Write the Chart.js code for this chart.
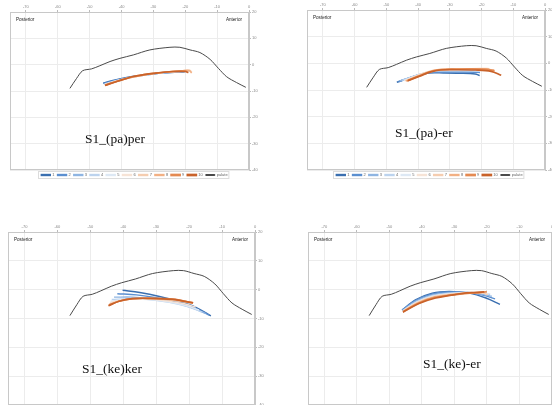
<!DOCTYPE html>
<html>
<head>
<meta charset="utf-8">
<script src="https://cdn.jsdelivr.net/npm/chart.js@4"></script>
<style>
  html, body { margin: 0; padding: 0; background: #fff; overflow: hidden; width: 552px; height: 405px; }
  canvas { position: absolute; }
</style>
</head>
<body>
<canvas id="c1" width="262" height="187" style="left:0;top:0"></canvas>
<canvas id="c2" width="276" height="187" style="left:276px;top:0"></canvas>
<canvas id="c3" width="264" height="222" style="left:0;top:200px"></canvas>
<canvas id="c4" width="286" height="222" style="left:276px;top:200px"></canvas>
<script>
/* ===== dados ===== */
const seriesNames = ['1', '2', '3', '4', '5', '6', '7', '8', '9', '10'];
const xTicks = [-70, -60, -50, -40, -30, -20, -10, 0];
const yTicks = [20, 10, 0, -10, -20, -30, -40];

const palateX = [-56.2, -54.1, -52.2, -49.4, -46.8, -43.6, -40.5, -36.3, -31.1, -24.8, -21.7, -18.5, -15.4, -12.2, -9.6, -7.0, -3.9, -1.0];
const palateY = [-9.0, -5.2, -2.3, -1.6, -0.4, 1.2, 2.4, 3.7, 5.6, 6.6, 6.6, 5.6, 4.6, 2.0, -1.4, -4.6, -6.8, -8.6];

// S1_(pa)per
const paPerX = [
  [-45.8, -42.0, -38.0, -34.0, -30.0, -26.0, -22.0, -20.2],
  [-45.6, -41.8, -37.8, -33.8, -29.8, -25.8, -21.8, -19.9],
  [-45.4, -41.6, -37.6, -33.6, -29.6, -25.6, -21.6, -19.6],
  [-45.3, -41.4, -37.4, -33.4, -29.4, -25.4, -21.4, -19.4],
  [-45.2, -41.3, -37.3, -33.3, -29.3, -25.3, -21.3, -19.0],
  [-45.2, -41.2, -37.2, -33.2, -29.2, -25.2, -21.2, -18.6],
  [-45.1, -41.1, -37.1, -33.1, -29.1, -25.1, -21.1, -18.6, -17.9],
  [-45.1, -41.0, -37.0, -33.0, -29.0, -25.0, -21.0, -18.8, -18.0],
  [-45.2, -41.0, -36.3, -33.0, -30.0, -23.8, -19.6],
  [-45.2, -41.0, -36.3, -33.0, -30.0, -23.8, -20.0, -19.0]
];
const paPerY = [
  [-7.0, -5.8, -4.8, -4.1, -3.5, -3.1, -2.8, -2.7],
  [-7.2, -5.9, -4.9, -4.1, -3.5, -3.0, -2.7, -2.6],
  [-7.3, -6.0, -4.9, -4.1, -3.4, -2.9, -2.6, -2.5],
  [-7.4, -6.0, -4.9, -4.0, -3.4, -2.9, -2.6, -2.4],
  [-7.5, -6.1, -4.9, -4.0, -3.3, -2.8, -2.5, -2.3],
  [-7.5, -6.1, -4.9, -4.0, -3.3, -2.8, -2.4, -2.2],
  [-7.6, -6.2, -4.9, -4.0, -3.3, -2.7, -2.3, -2.1, -3.0],
  [-7.7, -6.2, -4.9, -3.9, -3.2, -2.7, -2.3, -2.2, -3.2],
  [-7.8, -6.1, -4.5, -3.8, -3.3, -2.6, -2.4],
  [-7.9, -6.2, -4.5, -3.8, -3.3, -2.6, -2.6, -3.0]
];

// S1_(pa)-er
const paErX = [
  [-46.7, -43.5, -40.0, -36.5, -32.0, -27.0, -22.0, -20.6],
  [-46.2, -43.0, -39.5, -36.0, -31.0, -26.0, -21.0, -20.5],
  [-45.8, -42.5, -39.0, -35.5, -30.0, -25.0, -21.0, -20.4],
  [-45.0, -42.0, -38.5, -35.0, -30.0, -25.0, -20.5, -19.0],
  [-44.5, -41.5, -38.0, -35.0, -30.0, -25.0, -20.0, -18.0],
  [-44.2, -41.2, -37.8, -34.8, -30.0, -25.0, -20.0, -17.8],
  [-44.0, -41.0, -37.5, -34.5, -30.0, -25.0, -20.0, -17.5],
  [-43.8, -40.5, -37.0, -34.0, -29.0, -24.0, -19.0, -16.0],
  [-43.5, -40.0, -36.5, -33.5, -28.0, -23.0, -18.5, -15.9],
  [-43.2, -39.5, -36.0, -33.0, -28.0, -22.0, -17.0, -13.8]
];
const paErY = [
  [-7.1, -5.8, -4.4, -3.6, -3.6, -3.7, -4.0, -4.6],
  [-6.9, -5.6, -4.3, -3.4, -3.3, -3.3, -3.4, -3.5],
  [-6.6, -5.3, -4.0, -3.1, -2.9, -2.8, -2.7, -2.6],
  [-6.4, -5.1, -3.8, -2.9, -2.7, -2.6, -2.5, -2.4],
  [-6.5, -5.1, -3.6, -2.8, -2.5, -2.4, -2.3, -2.3],
  [-6.5, -5.0, -3.5, -2.7, -2.4, -2.2, -2.1, -2.1],
  [-6.6, -5.0, -3.4, -2.5, -2.2, -2.0, -1.9, -2.0],
  [-6.7, -5.1, -3.4, -2.4, -2.1, -2.0, -2.1, -2.5],
  [-6.6, -4.9, -3.3, -2.4, -2.2, -2.1, -2.3, -2.8],
  [-6.5, -4.8, -3.2, -2.5, -2.4, -2.5, -3.0, -4.5]
];

// S1_(ke)ker
const keKerX = [
  [-40.2, -35.0, -29.0, -22.9, -17.8, -13.4],
  [-41.8, -36.0, -30.0, -24.0, -18.5, -14.0],
  [-42.8, -37.0, -31.0, -25.0, -19.5, -15.0],
  [-43.5, -38.0, -32.0, -26.0, -20.5, -16.0],
  [-43.8, -38.5, -32.5, -26.5, -21.0, -17.0],
  [-44.0, -39.0, -33.0, -27.0, -21.5, -18.0],
  [-44.2, -40.0, -35.0, -29.0, -23.0, -19.0],
  [-44.3, -41.0, -37.0, -32.0, -25.0, -18.8],
  [-44.4, -41.3, -37.2, -32.1, -25.0, -18.8],
  [-44.5, -41.3, -37.2, -32.1, -25.0, -18.8]
];
const keKerY = [
  [-0.2, -1.0, -2.35, -4.1, -6.2, -9.1],
  [-1.4, -1.8, -2.8, -4.3, -6.2, -8.8],
  [-2.6, -2.6, -3.2, -4.4, -6.1, -8.3],
  [-3.4, -3.1, -3.4, -4.4, -5.9, -7.8],
  [-4.0, -3.3, -3.4, -4.2, -5.5, -7.0],
  [-4.4, -3.4, -3.2, -3.9, -4.9, -6.0],
  [-4.9, -3.6, -3.1, -3.3, -4.0, -4.7],
  [-5.2, -3.9, -3.1, -3.0, -3.3, -4.5],
  [-5.4, -4.0, -3.1, -3.0, -3.3, -4.6],
  [-5.6, -4.0, -3.1, -3.0, -3.4, -4.6]
];

// S1_(ke)-er
const keErX = [
  [-46.1, -42.0, -36.8, -31.6, -25.5, -20.3, -16.0],
  [-46.0, -42.0, -37.0, -32.0, -26.0, -21.0, -17.5],
  [-45.9, -41.8, -37.0, -32.0, -26.0, -21.0, -18.5],
  [-45.8, -41.6, -36.8, -31.5, -26.0, -21.0, -19.0],
  [-45.8, -41.5, -36.6, -31.2, -26.0, -21.2, -19.5],
  [-45.8, -41.5, -36.5, -31.0, -26.0, -21.5, -19.8],
  [-45.8, -41.4, -36.5, -31.0, -26.0, -21.5, -19.8],
  [-45.8, -41.2, -36.2, -30.5, -26.0, -21.0, -20.8],
  [-45.8, -41.0, -36.0, -30.0, -26.0, -22.0, -20.0],
  [-45.8, -40.9, -35.8, -31.0, -27.5, -24.0, -20.8]
];
const keErY = [
  [-7.1, -3.5, -1.2, -0.6, -1.2, -2.9, -5.1],
  [-7.0, -3.8, -1.6, -0.8, -1.0, -2.0, -3.2],
  [-7.2, -4.0, -1.9, -1.1, -1.1, -1.7, -2.3],
  [-7.3, -4.2, -2.1, -1.3, -1.0, -1.3, -1.6],
  [-7.4, -4.3, -2.3, -1.4, -1.0, -1.1, -1.5],
  [-7.4, -4.4, -2.4, -1.5, -1.1, -1.0, -1.6],
  [-7.5, -4.5, -2.5, -1.6, -1.1, -1.0, -1.8],
  [-7.6, -4.6, -2.6, -1.7, -1.2, -0.9, -0.8],
  [-7.7, -4.7, -2.7, -1.8, -1.3, -1.0, -0.7],
  [-7.8, -4.8, -2.9, -1.9, -1.3, -1.0, -0.8]
];

/* ===== estilo ===== */
const palette = ['#3a6fb0', '#5b8fd0', '#8fb5e2', '#bcd3ee', '#dde8f4',
                 '#f6e3d6', '#f5cdb0', '#f2b084', '#e48a52', '#c9622a'];

// fundo, contorno da área, moldura da legenda e textos
const decorPlugin = {
    id: 'decor',
    beforeDraw(chart) {
        const { ctx } = chart;
        ctx.save();
        ctx.fillStyle = '#fff';
        ctx.fillRect(0, 0, chart.width, chart.height);
        ctx.restore();
    },
    afterDraw(chart) {
        const { ctx, chartArea: a } = chart;
        const o = chart.options.plugins.decor;
        ctx.save();
        ctx.strokeStyle = '#c8c8c8';
        ctx.lineWidth = 1;
        ctx.strokeRect(a.left + 0.5, a.top + 0.5, a.width - 1, a.height - 1);

        const boxes = chart.legend.legendHitBoxes;
        if (boxes && boxes.length) {
            const l = Math.min(...boxes.map(b => b.left));
            const r = Math.max(...boxes.map(b => b.left + b.width));
            const t = Math.min(...boxes.map(b => b.top));
            const bt = Math.max(...boxes.map(b => b.top + b.height));
            ctx.strokeStyle = '#dcdcdc';
            ctx.strokeRect(Math.round(l) - 2.5, Math.round(t) - 1.5, r - l + 4, bt - t + 3);
        }

        ctx.fillStyle = '#222';
        ctx.font = '4.6px "Liberation Sans", Arial, sans-serif';
        ctx.textBaseline = 'middle';
        ctx.textAlign = 'left';
        ctx.fillText('Posterior', a.left + 6, a.top + 8);
        ctx.textAlign = 'right';
        ctx.fillText('Anterior', a.right - 7, a.top + 8);
        ctx.fillStyle = '#111';
        ctx.font = '13.5px "Liberation Serif", "Times New Roman", serif';
        ctx.textAlign = 'left';
        ctx.textBaseline = 'alphabetic';
        ctx.fillText(o.caption, a.left + o.cx, a.top + o.cy);
        ctx.restore();
    }
};

function makePanel(id, xs, ys, caption, cx, cy, pad, axisH, axisW) {
    const datasets = xs.map((xa, i) => ({
        label: seriesNames[i],
        data: xa.map((x, j) => ({ x: x, y: ys[i][j] })),
        borderColor: palette[i],
        backgroundColor: palette[i],
        borderWidth: i >= 8 ? 1.7 : 1.4,
        pointRadius: 0,
        showLine: true,
        tension: 0.35,
        order: -i // laranjas por cima
    }));
    datasets.push({
        label: 'palate',
        data: palateX.map((x, j) => ({ x: x, y: palateY[j] })),
        borderColor: '#4a4a4a',
        backgroundColor: '#4a4a4a',
        borderWidth: 1,
        pointRadius: 0,
        showLine: true,
        tension: 0.3,
        order: -20
    });

    const tickFont = { size: 4, family: '"Liberation Sans", Arial, sans-serif' };

    new Chart(document.getElementById(id), {
        type: 'scatter',
        data: { datasets },
        plugins: [decorPlugin],
        options: {
            responsive: false,
            animation: false,
            layout: { padding: pad },
            plugins: {
                decor: { caption, cx, cy },
                tooltip: { enabled: false },
                legend: {
                    position: 'bottom',
                    labels: {
                        boxWidth: 9,
                        boxHeight: 1,
                        padding: 3,
                        color: '#666',
                        font: { size: 4, family: '"Liberation Sans", Arial, sans-serif' },
                        sort: (a, b) => a.datasetIndex - b.datasetIndex
                    }
                }
            },
            scales: {
                x: {
                    position: 'top',
                    min: -75,
                    max: 0,
                    afterBuildTicks: s => { s.ticks = xTicks.map(v => ({ value: v })); },
                    afterFit: s => { s.height = axisH; },
                    grid: { color: '#ececec', tickLength: 2, tickColor: '#bbb' },
                    border: { color: '#c8c8c8' },
                    ticks: { color: '#888', font: tickFont, padding: 1, maxRotation: 0 }
                },
                y: {
                    position: 'right',
                    min: -40,
                    max: 20,
                    afterBuildTicks: s => { s.ticks = yTicks.map(v => ({ value: v })); },
                    afterFit: s => { s.width = axisW; },
                    grid: { color: '#ececec', tickLength: 2, tickColor: '#bbb' },
                    border: { color: '#c8c8c8' },
                    ticks: { color: '#888', font: tickFont, padding: 1 }
                }
            }
        }
    });
}

makePanel('c1', paPerX, paPerY, 'S1_(pa)per', 75, 131, { top: 2, left: 10, right: 3, bottom: 0 }, 10, 10);
makePanel('c2', paErX, paErY, 'S1_(pa)-er', 88, 127, { top: 2, left: 31, right: 0, bottom: 0 }, 8, 7);
makePanel('c3', keKerX, keKerY, 'S1_(ke)ker', 74, 141, { top: 22, left: 8, right: 0, bottom: 0 }, 10, 9);
makePanel('c4', keErX, keErY, 'S1_(ke)-er', 115, 136, { top: 22, left: 32, right: 0, bottom: 0 }, 10, 10);
</script>
</body>
</html>
